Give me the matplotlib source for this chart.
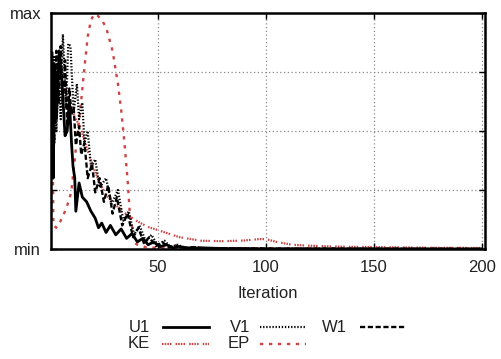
import matplotlib
matplotlib.use("Agg")
import matplotlib.pyplot as plt
from matplotlib.lines import Line2D

plt.rcParams['font.family'] = ['Liberation Sans', 'DejaVu Sans']

# --- data (normalised residual histories) ---
u1_x = [1, 1.5, 2.3, 3, 4.3, 5.5, 7, 8, 9, 10, 10.7, 11.5, 12, 13.5, 15, 17, 19, 21,
        22.5, 24, 26, 28, 30.5, 33, 35.5, 38, 40.5, 43, 45.5, 48, 51, 54, 57, 60,
        65, 70, 80, 100, 200]
u1_y = [0.83, 0.30, 0.78, 0.55, 0.84, 0.72, 0.48, 0.50, 0.63, 0.45, 0.35, 0.30, 0.16,
        0.28, 0.22, 0.20, 0.16, 0.13, 0.09, 0.11, 0.07, 0.10, 0.06, 0.085, 0.045,
        0.065, 0.03, 0.045, 0.018, 0.03, 0.01, 0.018, 0.005, 0.01, 0.003, 0.005,
        0.002, 0.001, 0.0]

v1_x = [1, 2, 3, 4, 5, 6, 7.5, 8.5, 9.5, 11, 12.5, 13.5, 15, 16, 17.5, 19, 21, 23,
        26, 28.5, 31.5, 34, 36.5, 39, 41.5, 44.5, 47, 50, 53, 56, 59, 63, 67, 72,
        80, 100, 200]
v1_y = [0.60, 0.82, 0.50, 0.75, 0.55, 0.91, 0.60, 0.87, 0.86, 0.58, 0.70, 0.55, 0.62,
        0.45, 0.50, 0.35, 0.38, 0.26, 0.30, 0.19, 0.25, 0.12, 0.16, 0.06, 0.10,
        0.03, 0.06, 0.015, 0.035, 0.008, 0.018, 0.004, 0.008, 0.002, 0.003, 0.001,
        0.0]

w1_x = [1, 2, 3, 4, 5, 6, 7, 8, 9, 10, 11, 12, 13.5, 14.5, 16, 17.5, 19.5, 21, 23,
        25, 27, 29, 31, 33.5, 36, 38.5, 41, 43.5, 46, 49, 52, 55, 58, 62, 66, 72,
        80, 100, 200]
w1_y = [0.80, 0.45, 0.84, 0.62, 0.86, 0.60, 0.80, 0.52, 0.68, 0.57, 0.60, 0.44, 0.52,
        0.40, 0.45, 0.30, 0.36, 0.24, 0.30, 0.20, 0.27, 0.15, 0.22, 0.10, 0.15,
        0.05, 0.09, 0.025, 0.05, 0.012, 0.03, 0.006, 0.015, 0.003, 0.008, 0.002,
        0.003, 0.001, 0.0]

ke_x = [1, 2, 3, 4, 5, 6, 8, 10, 12, 14, 16, 18, 20, 23, 26, 30, 35, 40, 45, 50, 55,
        60, 70, 80, 90, 97, 100, 105, 112, 120, 130, 140, 150, 160, 170, 180, 190, 200]
ke_y = [0.72, 0.75, 0.72, 0.74, 0.73, 0.70, 0.65, 0.60, 0.55, 0.52, 0.46, 0.40, 0.35,
        0.28, 0.23, 0.19, 0.15, 0.12, 0.095, 0.08, 0.065, 0.05, 0.035, 0.033, 0.036,
        0.042, 0.042, 0.03, 0.018, 0.014, 0.011, 0.009, 0.008, 0.007, 0.006, 0.005,
        0.005, 0.004]

ep_x = [1, 1.6, 3, 5, 7, 9, 10, 11.5, 12.7, 14.5, 16, 17.5, 19, 20.5, 22, 24, 26, 29,
        31.5, 33, 34.5, 36, 37, 38.5, 40, 45, 60, 100, 200]
ep_y = [0.74, 0.10, 0.09, 0.12, 0.16, 0.21, 0.25, 0.38, 0.49, 0.63, 0.77, 0.90, 0.97,
        0.995, 0.99, 0.97, 0.94, 0.84, 0.70, 0.59, 0.45, 0.29, 0.15, 0.07, 0.02,
        0.006, 0.004, 0.003, 0.002]

x_ticks = [50, 100, 150, 200]
y_grid = [0.25, 0.5, 0.75]

RED = '#cc4444'
styles = {
    'U1': dict(color='black', lw=2.0, ls='-'),
    'V1': dict(color='black', lw=1.6, ls=(0, (0.6, 0.8))),
    'W1': dict(color='black', lw=1.7, ls=(0, (2.2, 1.1))),
    'KE': dict(color=RED, lw=1.6, ls=(0, (0.7, 0.5, 0.7, 0.5, 0.7, 0.5, 0.7, 1.8))),
    'EP': dict(color=RED, lw=1.7, ls=(0, (1.4, 2.4))),
}

W, H = 501, 359
fig = plt.figure(figsize=(W / 100, H / 100), dpi=100)
ax = fig.add_axes([51 / W, 1 - 249 / H, 434 / W, 236 / H])

ax.plot(ep_x, ep_y, **styles['EP'])
ax.plot(ke_x, ke_y, **styles['KE'])
ax.plot(w1_x, w1_y, **styles['W1'])
ax.plot(v1_x, v1_y, **styles['V1'])
ax.plot(u1_x, u1_y, **styles['U1'])

ax.set_xlim(0.5, 201.5)
ax.set_ylim(0, 1)
ax.set_xticks(x_ticks)
ax.set_yticks([0] + y_grid + [1])
ax.set_yticklabels(['min', '', '', '', 'max'])
ax.tick_params(direction='in', top=True, right=True, length=4, width=1,
               labelsize=12, pad=8, labelcolor='#222222')
ax.tick_params(axis='y', pad=7)

for gx in x_ticks:
    ax.axvline(gx, color='#888888', lw=0.9, ls=(0, (1, 2)), zorder=0)
for gy in y_grid:
    ax.axhline(gy, color='#888888', lw=0.9, ls=(0, (1, 2)), zorder=0)

for s in ax.spines.values():
    s.set_linewidth(1.8)

ax.set_xlabel('Iteration', fontsize=12, labelpad=8, color='#222222')

# legend laid out in figure pixel coordinates: label, then line sample
entries = [('U1', 150, 163, 209, 327), ('V1', 250, 260, 306, 327),
           ('W1', 347, 360, 406, 327), ('KE', 150, 162, 209, 344),
           ('EP', 250, 260, 306, 344)]
for name, tx, x0, x1, y in entries:
    fig.text(tx / W, 1 - y / H, name, ha='right', va='center', fontsize=12,
             color='#222222')
    fig.add_artist(Line2D([x0 / W, x1 / W], [1 - y / H, 1 - y / H],
                          transform=fig.transFigure, **styles[name]))

fig.savefig('out.png', dpi=100)
